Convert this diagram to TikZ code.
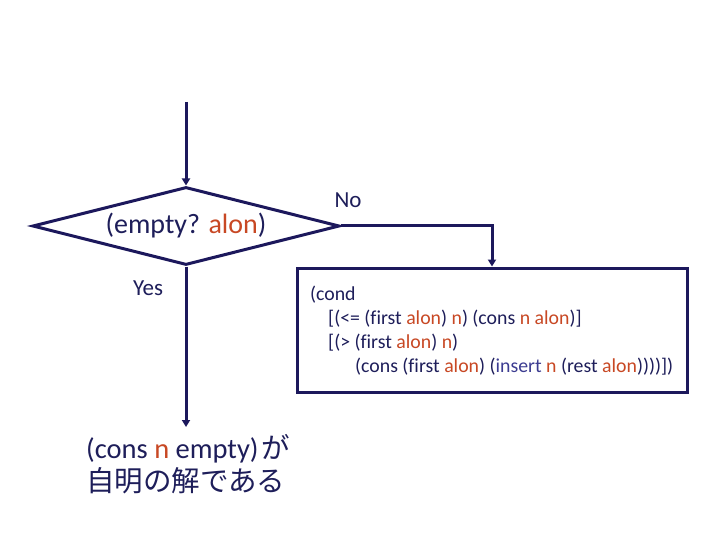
\documentclass[tikz,border=0pt]{standalone}
\usepackage{fontspec}
\setmainfont{Carlito}[Ligatures=NoCommon]
\newfontfamily\jpfont{Noto Sans CJK JP}
\usetikzlibrary{shapes.geometric,arrows.meta}
\definecolor{navy}{RGB}{28,24,92}
\definecolor{ink}{RGB}{30,30,90}
\definecolor{kw}{RGB}{200,72,36}
\definecolor{fn}{RGB}{60,60,145}
\newcommand{\rv}[1]{\textcolor{kw}{#1}}
\begin{document}
\begin{tikzpicture}[x=1pt,y=-1pt,
  flow/.style={draw=navy,line width=3pt},
  arr/.style={flow,-{Triangle[length=7pt,width=8pt]}},
  lbl/.style={text=ink,inner sep=0pt},
]
\useasboundingbox (0,0) rectangle (720,540);
\fill[white] (0,0) rectangle (720,540);
% decision
\node[flow,diamond,aspect=3.94,minimum width=307pt,minimum height=78pt,inner sep=0pt,
      text=ink,font=\fontsize{28}{32}\selectfont] (dec) at (186,226) {(empty? \rv{alon})};
% process box
\node[flow,rectangle,minimum width=390pt,minimum height=124pt,inner sep=0pt] (box) at (492,330) {};
\node[lbl,anchor=north west,align=left,font=\fontsize{19.8}{24}\selectfont] (code) at (310,286)
  {(cond\\
   \hspace*{18pt}[(<= (first \rv{alon}) \rv{n}) (cons \rv{n} \rv{alon})]\\
   \hspace*{18pt}[(> (first \rv{alon}) \rv{n})\\
   \hspace*{45pt}(cons (first \rv{alon}) (\textcolor{fn}{insert} \rv{n} (rest \rv{alon}))))])};
% coordinates
\coordinate (start) at (186,102);
\coordinate (yesend) at (186,427);
% connectors
\draw[arr] (start) -- (dec.north);
\draw[arr] (dec.east) -| (box.north);
\draw[arr] (dec.south) -- (yesend);
% labels
\node[lbl,font=\fontsize{23}{28}\selectfont] (no) at (348,200) {No};
\node[lbl,font=\fontsize{23}{28}\selectfont] (yes) at (148,288) {Yes};
\node[lbl,anchor=north west,align=left,font=\fontsize{28.5}{33}\selectfont] (result) at (86,434)
  {(cons \rv{n} empty)\hspace{3pt}{\jpfont が}\\{\jpfont 自明の解である}};
\end{tikzpicture}
\end{document}
